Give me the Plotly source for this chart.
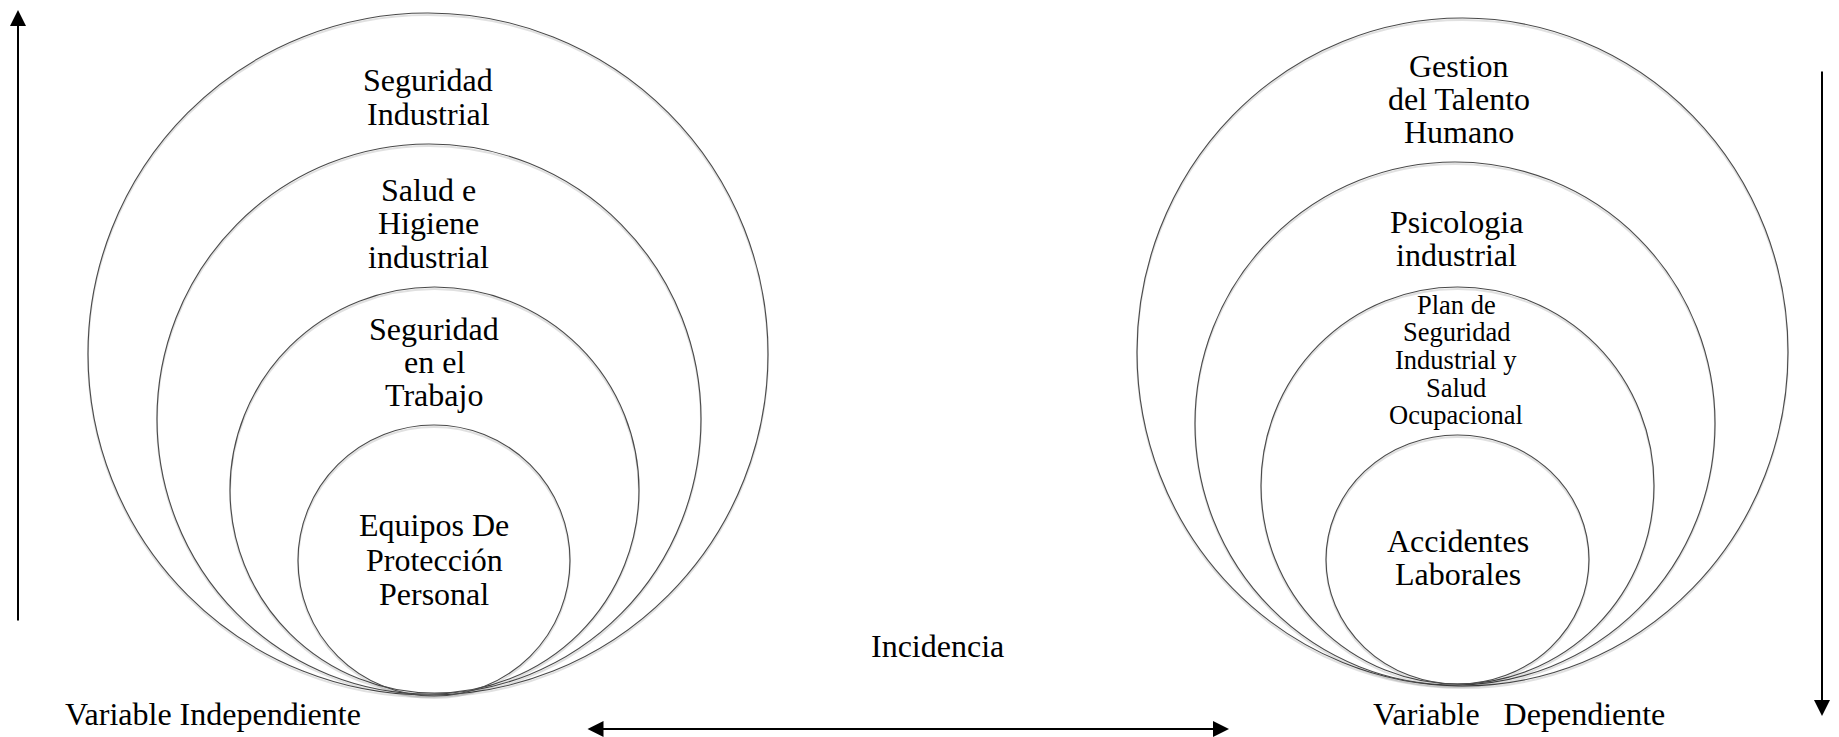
import plotly.graph_objects as go

W, H = 1839, 737
PAGE_OFFSET = 8  # default body margin of the html page

# ---- content (texts) ----
left_labels = [
    ["Seguridad", "Industrial"],
    ["Salud e", "Higiene", "industrial"],
    ["Seguridad", "en el", "Trabajo"],
    ["Equipos De", "Protección", "Personal"],
]
right_labels = [
    ["Gestion", "del Talento", "Humano"],
    ["Psicologia", "industrial"],
    ["Plan de", "Seguridad", "Industrial y", "Salud", "Ocupacional"],
    ["Accidentes", "Laborales"],
]
left_caption = "Variable Independiente"
right_caption = "Variable\u00a0\u00a0\u00a0Dependiente"
middle_caption = "Incidencia"

# ---- geometry (pixel coordinates of the diagram) ----
left_x0 = [88, 157, 230, 298]
left_x1 = [768, 701, 639, 570]
left_y0 = [13, 144, 287, 425]
left_y1 = [695, 694, 693, 696]

right_x0 = [1137, 1195, 1261, 1326]
right_x1 = [1788, 1715, 1654, 1589]
right_y0 = [18, 162, 287, 435]
right_y1 = [686, 685, 684, 684]

left_text_x = [428, 428, 434, 434]
left_text_y = [[80, 114], [190, 223, 257], [329, 362, 395], [525, 560, 594]]
right_text_x = [1459, 1456, 1456, 1458]
right_text_y = [[66, 99, 132], [222, 255], [305, 332, 360, 388, 415], [541, 574]]
right_text_size = [32, 32, 26.5, 32]

FONT = "Liberation Serif, Times New Roman, serif"
MAIN_SIZE = 32

fig = go.Figure()
fig.add_trace(go.Scatter(x=[0, W], y=[0, H], mode="markers",
                         marker=dict(opacity=0), hoverinfo="skip", showlegend=False))

shapes = []
for xs0, xs1, ys0, ys1 in [(left_x0, left_x1, left_y0, left_y1),
                           (right_x0, right_x1, right_y0, right_y1)]:
    for a, b, c, d in zip(xs0, xs1, ys0, ys1):
        shapes.append(dict(type="circle", xref="x", yref="y", x0=a, x1=b, y0=c + 2, y1=d + 2,
                           line=dict(color="rgba(0,0,0,0.12)", width=2)))
        shapes.append(dict(type="circle", xref="x", yref="y", x0=a, x1=b, y0=c, y1=d,
                           line=dict(color="#4a4a4a", width=1.1), fillcolor="rgba(0,0,0,0)"))

annotations = []
for lines, xc, ys in zip(left_labels, left_text_x, left_text_y):
    for t, y in zip(lines, ys):
        annotations.append(dict(x=xc, y=y, xref="x", yref="y", text=t, showarrow=False,
                                xanchor="center", yanchor="middle",
                                font=dict(family=FONT, size=MAIN_SIZE, color="black")))
for lines, xc, ys, fs in zip(right_labels, right_text_x, right_text_y, right_text_size):
    for t, y in zip(lines, ys):
        annotations.append(dict(x=xc, y=y, xref="x", yref="y", text=t, showarrow=False,
                                xanchor="center", yanchor="middle",
                                font=dict(family=FONT, size=fs, color="black")))

annotations.append(dict(x=213, y=714, xref="x", yref="y", text=left_caption, showarrow=False,
                        xanchor="center", yanchor="middle",
                        font=dict(family=FONT, size=MAIN_SIZE, color="black")))
annotations.append(dict(x=1519, y=714, xref="x", yref="y", text=right_caption, showarrow=False,
                        xanchor="center", yanchor="middle",
                        font=dict(family=FONT, size=MAIN_SIZE, color="black")))
annotations.append(dict(x=937, y=646, xref="x", yref="y", text=middle_caption, showarrow=False,
                        xanchor="center", yanchor="middle",
                        font=dict(family=FONT, size=MAIN_SIZE, color="black")))

arrow_style = dict(showarrow=True, arrowhead=2, arrowsize=1.6, arrowwidth=2, arrowcolor="black",
                   xref="x", yref="y", axref="x", ayref="y", text="")
annotations.append(dict(x=18, y=10, ax=18, ay=622, **arrow_style))
annotations.append(dict(x=1822, y=716, ax=1822, ay=70, **arrow_style))
annotations.append(dict(x=1229, y=729, ax=586, ay=729, arrowside="end+start", **arrow_style))

fig.update_layout(
    width=W, height=H,
    margin=dict(l=0, r=0, t=0, b=0),
    paper_bgcolor="white", plot_bgcolor="white",
    xaxis=dict(range=[PAGE_OFFSET, W + PAGE_OFFSET], visible=False, fixedrange=True),
    yaxis=dict(range=[H + PAGE_OFFSET, PAGE_OFFSET], visible=False, fixedrange=True),
    shapes=shapes, annotations=annotations, showlegend=False,
)

fig.write_html("out.html")
